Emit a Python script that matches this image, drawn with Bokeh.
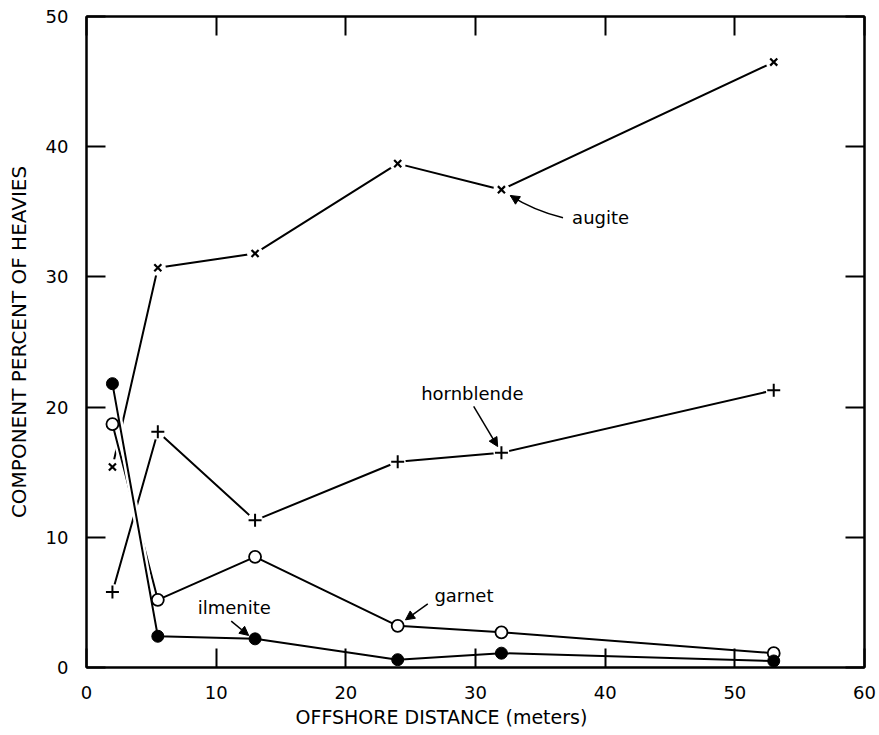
from bokeh.plotting import figure
from bokeh.models import Range1d, FixedTicker, LinearAxis, Arrow, NormalHead, Label, Title
from bokeh.embed import file_html
from bokeh.resources import INLINE

# ---- data ----
distance = [2, 5.5, 13, 24, 32, 53]
augite = [15.4, 30.7, 31.8, 38.7, 36.7, 46.5]
hornblende = [5.8, 18.1, 11.3, 15.8, 16.5, 21.3]
garnet = [18.7, 5.2, 8.5, 3.2, 2.7, 1.1]
ilmenite = [21.8, 2.4, 2.2, 0.6, 1.1, 0.5]

x_ticks = [0, 10, 20, 30, 40, 50, 60]
y_ticks = [0, 10, 20, 30, 40, 50]

x_title = "OFFSHORE DISTANCE (meters)"
y_title = "COMPONENT PERCENT OF HEAVIES"

FONT = "DejaVu Sans"

p = figure(width=879, height=735, x_range=Range1d(0, 60), y_range=Range1d(0, 50),
           output_backend="svg", toolbar_location=None,
           min_border_left=86, min_border_right=15, min_border_top=16, min_border_bottom=68)

p.xgrid.visible = False
p.ygrid.visible = False
p.background_fill_color = "white"
p.border_fill_color = "white"
p.outline_line_color = "black"
p.outline_line_width = 2

def style_axis(ax, ticks, labels=True):
    ax.ticker = FixedTicker(ticks=ticks)
    ax.axis_line_color = "black"
    ax.axis_line_width = 2
    ax.major_tick_line_color = "black"
    ax.major_tick_line_width = 2
    ax.major_tick_in = 19
    ax.major_tick_out = 0
    ax.minor_tick_line_color = None
    if labels:
        ax.major_label_text_font = FONT
        ax.major_label_text_font_size = "18px"
        ax.major_label_text_color = "black"
        ax.axis_label_text_font = FONT
        ax.axis_label_text_font_size = "20px"
        ax.axis_label_text_font_style = "normal"
        ax.axis_label_text_color = "black"
    else:
        ax.major_label_text_font_size = "1px"
        ax.major_label_text_color = None
        ax.major_label_standoff = 0

xa = p.xaxis[0]
ya = p.yaxis[0]
style_axis(xa, x_ticks)
style_axis(ya, y_ticks)
ya.axis_label = y_title
xa.major_label_standoff = 18
ya.major_label_standoff = 18
ya.axis_label_standoff = 12

top = LinearAxis()
right = LinearAxis()
style_axis(top, x_ticks, labels=False)
style_axis(right, y_ticks, labels=False)
p.add_layout(top, "above")
p.add_layout(right, "right")

# x-axis title, placed left of centre as in the reference
xt = Title(text=x_title, align="left", offset=209, standoff=5,
           text_font=FONT, text_font_size="19px", text_font_style="normal",
           text_color="black")
p.add_layout(xt, "below")

# ---- lines, with white halos to imitate the drafted line breaks ----
for ys in [hornblende, augite, garnet, ilmenite]:
    p.line(distance, ys, line_color="white", line_width=7)
    p.line(distance, ys, line_color="black", line_width=2)

# white clearance around x and + markers
for ys in [augite, hornblende]:
    p.scatter(distance, ys, marker="circle", size=16, fill_color="white", line_color=None)

p.scatter(distance, augite, marker="x", size=10, line_color="black", line_width=2.2)
p.scatter(distance, hornblende, marker="cross", size=13, line_color="black", line_width=2)
p.scatter(distance, garnet, marker="circle", size=12, fill_color="white",
          line_color="black", line_width=1.8)
p.scatter(distance, ilmenite, marker="circle", size=12, fill_color="black",
          line_color="black", line_width=1.0)

# ---- annotations ----
def head():
    return NormalHead(size=9, fill_color="black", line_color="black", line_width=1)

# augite: curved leader
p.quadratic(x0=[36.75], y0=[34.55], x1=[32.69], y1=[36.25], cx=[34.5], cy=[35.1],
            line_color="black", line_width=1.5)
p.add_layout(Arrow(end=head(), x_start=33.14, y_start=35.96, x_end=32.69, y_end=36.25,
                   line_color="black", line_width=1.5))
p.add_layout(Label(x=37.45, y=34.56, text="augite", text_font=FONT, text_font_size="18px",
                   text_baseline="middle", text_align="left", text_color="black"))

# hornblende
p.add_layout(Arrow(end=head(), x_start=29.86, y_start=20.05, x_end=31.71, y_end=16.97,
                   line_color="black", line_width=1.5))
p.add_layout(Label(x=33.7, y=21.04, text="hornblende", text_font=FONT, text_font_size="18px",
                   text_baseline="middle", text_align="right", text_color="black"))

# garnet
p.add_layout(Arrow(end=head(), x_start=26.32, y_start=4.89, x_end=24.6, y_end=3.66,
                   line_color="black", line_width=1.5))
p.add_layout(Label(x=26.83, y=5.53, text="garnet", text_font=FONT, text_font_size="18px",
                   text_baseline="middle", text_align="left", text_color="black"))

# ilmenite
p.add_layout(Arrow(end=head(), x_start=11.16, y_start=3.56, x_end=12.51, y_end=2.46,
                   line_color="black", line_width=1.5))
p.add_layout(Label(x=8.58, y=4.63, text="ilmenite", text_font=FONT, text_font_size="18px",
                   text_baseline="middle", text_align="left", text_color="black"))

open("out.html", "w").write(file_html(p, INLINE))
